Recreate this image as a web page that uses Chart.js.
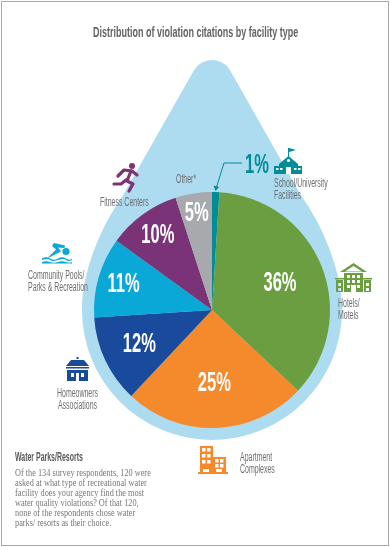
<!DOCTYPE html>
<html>
<head>
<meta charset="utf-8">
<script src="https://cdn.jsdelivr.net/npm/chart.js@4"></script>
<style>
  html, body { margin: 0; padding: 0; background: #fff; }
  #page { position: relative; width: 390px; height: 547px; overflow: hidden; }
  #frame { position: absolute; left: 1px; top: 1px; width: 386px; height: 543px; border: 1px solid #a9a9a9; }
  canvas { position: absolute; left: 0; top: 0; }
  svg { position: absolute; left: 0; top: 0; }
  .t { position: absolute; font-family: "Liberation Sans", sans-serif; color: #6d6e71; font-size: 12px; line-height: 12px; white-space: nowrap; transform: scaleX(0.58); transform-origin: 0 0; }
  #title { left: 93px; top: 23px; font-size: 15.5px; line-height: 18px; color: #626366; font-weight: bold; }
  #noteHead { left: 15px; top: 451px; color: #58595b; font-weight: bold; }
  #note { position: absolute; left: 15px; top: 468px; font-family: "Liberation Serif", serif; font-size: 9.3px; line-height: 10px; color: #77787b; white-space: nowrap; transform: scaleX(0.89); transform-origin: 0 0; }
</style>
</head>
<body>
<div id="page">
  <canvas id="pieChart" width="390" height="547"></canvas>
  <div id="frame"></div>
  <svg width="390" height="547" viewBox="0 0 390 547">
    <!-- 1% leader -->
    <path d="M242 163H224L216.5 187" fill="none" stroke="#008d97" stroke-width="1"/>
    <path d="M213.5 185.500L219 187L215.500 191Z" fill="#008d97"/>
    <!-- school -->
    <g fill="#008d97">
      <path d="M288 148h1v10h-1z"/><path d="M289 148l7 2-7 2z"/>
      <path d="M288.500 156L298 164H279Z"/>
      <rect x="279" y="164" width="19" height="10"/>
      <rect x="274" y="166" width="28" height="8"/>
    </g>
    <g fill="#fff"><circle cx="288.500" cy="160.500" r="1.600"/><rect x="276" y="168" width="2.500" height="2"/><rect x="280" y="168" width="2.500" height="2"/><rect x="294" y="168" width="2.500" height="2"/><rect x="298" y="168" width="2.500" height="2"/><rect x="286" y="167" width="5" height="7"/></g>
    <!-- hotel -->
    <g fill="#6b9e41">
      <path d="M353.500 263L367 272H340ZM353.500 266L345 271.500H362Z" fill-rule="evenodd"/>
      <rect x="344" y="273" width="19" height="19"/>
      <rect x="335" y="278" width="9" height="1.500"/><rect x="363" y="278" width="9" height="1.500"/>
      <path d="M336 280h7v12h-7zM338 283v3h3v-3zM338 288v3h3v-3z" fill-rule="evenodd"/>
      <path d="M364 280h7v12h-7zM366 283v3h3v-3zM366 288v3h3v-3z" fill-rule="evenodd"/>
    </g>
    <g fill="#fff"><rect x="347" y="275" width="3" height="3"/><rect x="352" y="275" width="3" height="3"/><rect x="357" y="275" width="3" height="3"/><rect x="347" y="280" width="3" height="3"/><rect x="352" y="280" width="3" height="3"/><rect x="357" y="280" width="3" height="3"/><rect x="347" y="285" width="3" height="3"/><rect x="357" y="285" width="3" height="3"/><rect x="351" y="285" width="5" height="7"/></g>
    <!-- apartment -->
    <g fill="#f58a2c">
      <rect x="200" y="446" width="13" height="27"/><rect x="213" y="457" width="13" height="16"/><rect x="198" y="472" width="30" height="2"/>
    </g>
    <g fill="#fff"><rect x="202" y="448" width="3.500" height="3.500"/><rect x="207" y="448" width="3.500" height="3.500"/><rect x="202" y="454" width="3.500" height="3.500"/><rect x="207" y="454" width="3.500" height="3.500"/><rect x="202" y="460" width="3.500" height="3.500"/><rect x="207" y="460" width="3.500" height="3.500"/><rect x="215" y="459" width="3.500" height="3.500"/><rect x="220" y="459" width="3.500" height="3.500"/><rect x="215" y="464" width="3.500" height="3.500"/><rect x="220" y="464" width="3.500" height="3.500"/><rect x="203" y="469" width="6" height="3"/><rect x="216" y="469" width="6" height="3"/></g>
    <!-- house -->
    <g fill="#1a4a9c">
      <rect x="76.500" y="357" width="2" height="2"/>
      <path d="M71 360H84L89 366H66Z"/><rect x="66" y="367" width="23" height="1.500"/>
      <path d="M67 370H88V381H67ZM71 373V377H74V373ZM81 373V377H84V373ZM76 373V381H79V373Z" fill-rule="evenodd"/>
    </g>
    <!-- swimmer -->
    <g fill="#0aa8d6">
      <circle cx="66" cy="251.500" r="3.600"/>
      <path d="M54 243L65 245.500L64.500 248L58 247.500L61 251.500L47 258.500L50 255.500L56 249.500L52 246Z"/>
      <path d="M42 258.500Q46 256 50 258.500T58 258.500T66 258.500T72 258.500V260Q68 262 66 260T58 260T50 260T42 260Z"/>
      <path d="M42 262Q46 260.500 50 262T58 262T66 262T72 262V263.500H42Z"/>
    </g>
    <!-- runner -->
    <g fill="none" stroke="#7b3378" stroke-width="3.200" stroke-linecap="round" stroke-linejoin="round">
      <path d="M118 176L124 170L132 171L137 175"/>
      <path d="M131 171L127 181L133 184L129 191"/>
      <path d="M126 180L121 184H114"/>
    </g>
    <circle cx="132" cy="166" r="3" fill="#7b3378"/>
  </svg>
  <div class="t" id="title">Distribution of violation citations by facility type</div>
  <div class="t" style="left:176px;top:173px">Other*</div>
  <div class="t" style="left:274px;top:177px">School/University<br>Facilities</div>
  <div class="t" style="left:100px;top:196px">Fitness Centers</div>
  <div class="t" style="left:28px;top:269px">Community Pools/<br>Parks &amp; Recreation</div>
  <div class="t" style="left:57px;top:387px;text-align:center">Homeowners<br>Associations</div>
  <div class="t" style="left:338px;top:297px">Hotels/<br>Motels</div>
  <div class="t" style="left:240px;top:451px">Apartment<br>Complexes</div>
  <div class="t" id="noteHead">Water Parks/Resorts</div>
  <div id="note">Of the 134 survey respondents, 120 were<br>asked at what type of recreational water<br>facility does your agency find the most<br>water quality violations? Of that 120,<br>none of the respondents chose water<br>parks/ resorts as their choice.</div>
</div>
<script>
const categories = ["School/University Facilities", "Hotels/Motels", "Apartment Complexes", "Homeowners Associations", "Community Pools/Parks & Recreation", "Fitness Centers", "Other*"];
const shares = [1, 36, 25, 12, 11, 10, 5];
const sliceColors = ["#008d97", "#6b9e41", "#f58a2c", "#1a4a9c", "#0aa8d6", "#7b3378", "#a7a9ac"];

// how far out each percent label sits, as a share of the radius (null = teal 1%, drawn separately)
const labelDistance = [null, 0.62, 0.62, 0.68, 0.78, 0.78, 0.83];

// light blue drop behind the pie, follows the pie centre
const dropPlugin = {
  id: "drop",
  beforeDatasetsDraw(chart) {
    const arc = chart.getDatasetMeta(0).data[0];
    const x = arc.x, y = arc.y, r = arc.outerRadius + 12;
    const ctx = chart.ctx;
    ctx.save();
    ctx.fillStyle = "#addcf1";
    ctx.beginPath();
    ctx.arc(x, y, r, Math.PI, 0, true);
    ctx.bezierCurveTo(x + r, y - 40, x + 110, y - 85, x + 90, y - 113);
    ctx.arc(x, y - 229, 21, -Math.PI / 6, -5 * Math.PI / 6, true);
    ctx.lineTo(x - 90, y - 113);
    ctx.bezierCurveTo(x - 110, y - 85, x - r, y - 40, x - r, y);
    ctx.closePath();
    ctx.fill();
    ctx.restore();
  }
};

// narrow text, the installed fonts have no condensed cut
function narrowText(ctx, text, x, y) {
  ctx.save();
  ctx.translate(x, y);
  ctx.scale(0.59, 1);
  ctx.fillText(text, 0, 0);
  ctx.restore();
}

const percentPlugin = {
  id: "percents",
  afterDatasetsDraw(chart) {
    const ctx = chart.ctx;
    ctx.save();
    ctx.textAlign = "center";
    ctx.textBaseline = "middle";
    ctx.font = 'bold 28px "Liberation Sans", sans-serif';
    chart.getDatasetMeta(0).data.forEach((arc, i) => {
      if (labelDistance[i] === null) {
        ctx.fillStyle = sliceColors[i];
        narrowText(ctx, shares[i] + "%", 257, 165);
        return;
      }
      const mid = (arc.startAngle + arc.endAngle) / 2;
      const d = arc.outerRadius * labelDistance[i];
      ctx.fillStyle = "#fff";
      narrowText(ctx, shares[i] + "%", arc.x + Math.cos(mid) * d, arc.y + Math.sin(mid) * d);
    });
    ctx.restore();
  }
};

new Chart(document.getElementById("pieChart"), {
  type: "pie",
  data: {
    labels: categories,
    datasets: [{
      data: shares,
      backgroundColor: sliceColors,
      borderWidth: 0
    }]
  },
  options: {
    responsive: false,
    animation: false,
    layout: { padding: { left: 94, right: 60, top: 192, bottom: 119 } },
    plugins: {
      legend: { display: false },
      tooltip: { enabled: false }
    }
  },
  plugins: [dropPlugin, percentPlugin]
});
</script>
</body>
</html>
